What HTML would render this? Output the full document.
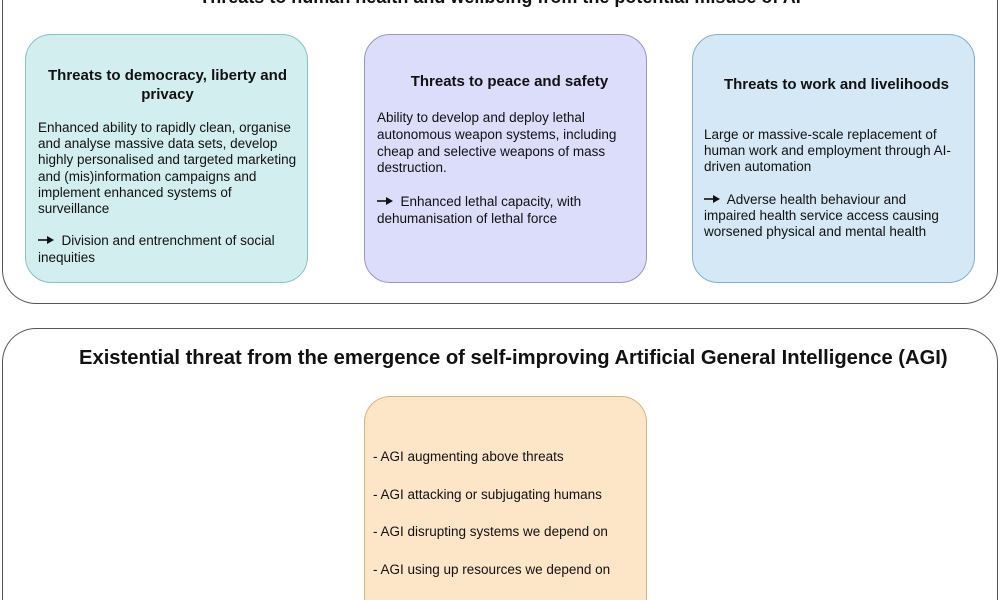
<!DOCTYPE html>
<html style="overflow:hidden"><head><meta charset="utf-8"><style>
html,body{margin:0;width:1000px;height:600px;overflow:hidden}
body{background:#fff;font-family:"Liberation Sans",Arial,sans-serif;color:#111}
#w{position:relative;width:1000px;height:600px;overflow:hidden}
.a{position:absolute;box-sizing:border-box}
.outer{border:1.5px solid #555;border-radius:34px;background:#fff}
.box{border-radius:26px;border:1.2px solid}
.t{position:absolute;white-space:nowrap;font-size:13.5px;line-height:16.2px}
.h{position:absolute;font-weight:bold;font-size:15px;text-align:center;line-height:19px}
svg.ar{width:16px;height:10px;vertical-align:0px}
</style></head><body><div id="w">
<div class="a outer" style="left:2px;top:0;width:996px;height:304px;border-top:none;border-radius:0 0 34px 34px"></div>
<div class="a" style="left:0;top:-13px;width:1000px;text-align:center;font-weight:bold;font-size:18px">Threats to human health and wellbeing from the potential misuse of AI</div>

<div class="a box" style="left:25px;top:34px;width:283px;height:249px;background:#d2eeee;border-color:#84c4c4"></div>
<div class="h" style="left:26px;top:66px;width:283px">Threats to democracy, liberty and<br>privacy</div>
<div class="t" style="left:38px;top:120px">Enhanced ability to rapidly clean, organise<br>and analyse massive data sets, develop<br>highly personalised and targeted marketing<br>and (mis)information campaigns and<br>implement enhanced systems of<br>surveillance<br><br><svg class="ar" viewBox="0 0 16 10"><line x1="0" y1="5" x2="11" y2="5" stroke="#111" stroke-width="1.6"/><path d="M9 1 L16 5 L9 9 Z" fill="#111"/></svg>&nbsp; Division and entrenchment of social<br>inequities</div>

<div class="a box" style="left:364px;top:34px;width:283px;height:249px;background:#dcdcfb;border-color:#9a94c8"></div>
<div class="h" style="left:368px;top:72px;width:283px">Threats to peace and safety</div>
<div class="t" style="left:377px;top:110px;line-height:16.8px">Ability to develop and deploy lethal<br>autonomous weapon systems, including<br>cheap and selective weapons of mass<br>destruction.<br><br><svg class="ar" viewBox="0 0 16 10"><line x1="0" y1="5" x2="11" y2="5" stroke="#111" stroke-width="1.6"/><path d="M9 1 L16 5 L9 9 Z" fill="#111"/></svg>&nbsp; Enhanced lethal capacity, with<br>dehumanisation of lethal force</div>

<div class="a box" style="left:692px;top:34px;width:283px;height:249px;background:#d5e8f5;border-color:#80b0d2"></div>
<div class="h" style="left:695px;top:75px;width:283px">Threats to work and livelihoods</div>
<div class="t" style="left:704px;top:127px">Large or massive-scale replacement of<br>human work and employment through AI-<br>driven automation<br><br><svg class="ar" viewBox="0 0 16 10"><line x1="0" y1="5" x2="11" y2="5" stroke="#111" stroke-width="1.6"/><path d="M9 1 L16 5 L9 9 Z" fill="#111"/></svg>&nbsp; Adverse health behaviour and<br>impaired health service access causing<br>worsened physical and mental health</div>

<div class="a outer" style="left:2px;top:328px;width:996px;height:272px;border-bottom:none;border-radius:34px 34px 0 0"></div>
<div class="a" style="left:79px;top:347px;white-space:nowrap;font-weight:bold;font-size:20.2px">Existential threat from the emergence of self-improving Artificial General Intelligence (AGI)</div>
<div class="a box" style="left:364px;top:396px;width:283px;height:204px;background:#fde5c8;border-color:#d8b476;border-bottom:none;border-radius:26px 26px 0 0"></div>
<div class="t" style="left:373px;top:438px;line-height:37.5px">- AGI augmenting above threats<br>- AGI attacking or subjugating humans<br>- AGI disrupting systems we depend on<br>- AGI using up resources we depend on</div>
</div></body></html>
